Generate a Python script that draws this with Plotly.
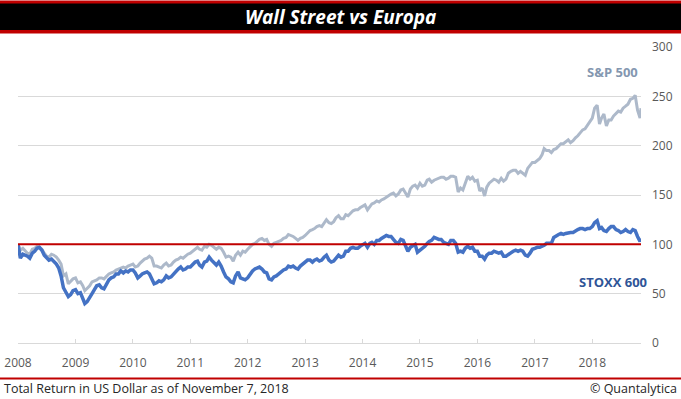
import plotly.graph_objects as go

# ---------------- data (semi-monthly readings: 1st and 16th of each month) ----------------
sp500_2008 = [100, 94, 96, 93, 91, 90, 95, 96, 98, 97, 95, 91, 88, 87, 90, 89, 87, 84, 80, 68, 70, 60, 63, 65]
sp500_2009 = [66, 61, 62, 58, 53, 55, 58, 62, 63, 64, 66, 66, 65, 68, 70, 71, 72, 74, 75, 76, 77, 76, 78, 79]
sp500_2010 = [80, 77, 78, 81, 83, 85, 86, 88, 86, 78, 78, 77, 76, 79, 81, 78, 79, 82, 84, 85, 87, 86, 88, 90]
sp500_2011 = [91, 93, 95, 97, 95, 94, 98, 97, 100, 99, 97, 95, 97, 96, 92, 87, 88, 87, 83, 89, 92, 89, 93, 92]
sp500_2012 = [95, 97, 100, 101, 103, 105, 106, 104, 105, 100, 98, 101, 102, 103, 104, 106, 107, 110, 109, 108, 106, 104, 106, 107]
sp500_2013 = [109, 112, 114, 115, 116, 118, 119, 118, 122, 125, 122, 121, 123, 127, 129, 126, 126, 130, 129, 132, 134, 135, 135, 137]
sp500_2014 = [139, 140, 135, 139, 141, 142, 144, 143, 145, 146, 148, 150, 151, 152, 149, 151, 155, 156, 152, 148, 156, 159, 160, 157]
sp500_2015 = [162, 159, 160, 165, 166, 163, 165, 166, 167, 168, 168, 166, 167, 169, 169, 168, 153, 157, 155, 162, 169, 166, 168, 164]
sp500_2016 = [165, 154, 157, 149, 158, 162, 164, 166, 165, 163, 167, 164, 166, 172, 174, 175, 175, 172, 174, 172, 170, 177, 180, 183]
sp500_2017 = [183, 185, 187, 191, 197, 195, 195, 193, 196, 197, 200, 202, 202, 204, 206, 203, 205, 208, 210, 213, 216, 217, 221, 224]
sp500_2018 = [228, 238, 241, 222, 228, 232, 220, 226, 226, 230, 233, 235, 234, 238, 240, 242, 247, 248, 251, 236, 228, 238]

stoxx_2008 = [100, 86, 90, 89, 88, 86, 91, 93, 96, 97, 94, 89, 86, 84, 85, 83, 80, 76, 68, 56, 52, 47, 49, 53]
stoxx_2009 = [54, 50, 51, 46, 40, 42, 47, 50, 54, 58, 59, 56, 55, 60, 64, 66, 67, 70, 70, 73, 71, 73, 72, 74]
stoxx_2010 = [74, 71, 66, 68, 70, 71, 72, 70, 65, 60, 61, 63, 62, 64, 68, 66, 67, 70, 73, 75, 77, 74, 75, 77]
stoxx_2011 = [77, 80, 82, 83, 79, 77, 82, 83, 87, 84, 81, 79, 82, 78, 72, 67, 65, 62, 61, 68, 72, 66, 65, 64]
stoxx_2012 = [66, 70, 73, 75, 76, 77, 75, 72, 71, 65, 64, 67, 68, 70, 72, 74, 75, 78, 77, 78, 76, 75, 78, 80]
stoxx_2013 = [82, 84, 84, 82, 84, 85, 83, 84, 87, 89, 84, 82, 83, 86, 89, 87, 88, 93, 93, 96, 97, 96, 96, 98]
stoxx_2014 = [100, 101, 97, 101, 102, 100, 104, 104, 106, 107, 109, 108, 108, 105, 102, 101, 105, 104, 98, 93, 97, 99, 100, 92]
stoxx_2015 = [94, 96, 98, 101, 103, 104, 107, 106, 105, 105, 102, 101, 100, 104, 104, 101, 92, 93, 92, 96, 98, 96, 97, 93]
stoxx_2016 = [93, 88, 88, 85, 89, 91, 91, 93, 92, 91, 92, 88, 88, 90, 92, 93, 94, 93, 94, 93, 89, 88, 91, 95]
stoxx_2017 = [96, 97, 97, 98, 99, 101, 101, 101, 107, 109, 110, 111, 110, 111, 112, 112, 112, 114, 115, 116, 116, 115, 116, 116]
stoxx_2018 = [118, 122, 124, 116, 117, 114, 113, 116, 118, 118, 115, 114, 112, 113, 115, 113, 112, 115, 114, 108, 103, 106]

sp500 = (sp500_2008 + sp500_2009 + sp500_2010 + sp500_2011 + sp500_2012 + sp500_2013
         + sp500_2014 + sp500_2015 + sp500_2016 + sp500_2017 + sp500_2018)
stoxx600 = (stoxx_2008 + stoxx_2009 + stoxx_2010 + stoxx_2011 + stoxx_2012 + stoxx_2013
            + stoxx_2014 + stoxx_2015 + stoxx_2016 + stoxx_2017 + stoxx_2018)

dates = []
for yr in range(2008, 2019):
    for mo in range(1, 13):
        if (yr, mo) > (2018, 10):
            continue
        for dy in (1, 16):
            dates.append(f"{yr}-{mo:02d}-{dy:02d}")
dates += ["2018-11-01", "2018-11-07"]

years = list(range(2008, 2019))
year_ticks = [f"{y}-01-01" for y in years]
year_labels = [str(y) for y in years]
baseline = 100
y_ticks = [0, 50, 100, 150, 200, 250, 300]

title_text = "Wall Street vs Europa"
footer_left = "Total Return in US Dollar as of November 7, 2018"
footer_right = "© Quantalytica"

# ---------------- layout geometry ----------------
W, H = 681, 399
ML, MR, MT, MB = 18, 40, 47, 56
RED = "#C00000"
FONT = "Open Sans"


def px_x(x):
    return (x - ML) / (W - ML - MR)


def px_y(y):
    return (H - MB - y) / (H - MT - MB)


fig = go.Figure()
fig.add_trace(go.Scatter(x=dates, y=sp500, mode="lines", name="S&P 500",
                         line=dict(color="#ADB9CA", width=3)))
fig.add_trace(go.Scatter(x=dates, y=stoxx600, mode="lines", name="STOXX 600",
                         line=dict(color="#4472C4", width=3.5)))

fig.update_layout(
    width=W, height=H, autosize=False,
    margin=dict(l=ML, r=MR, t=MT, b=MB, pad=0, autoexpand=False),
    paper_bgcolor="white", plot_bgcolor="white",
    showlegend=False,
    font=dict(family=FONT, size=12, color="#595959"),
    xaxis=dict(
        type="date", range=[dates[0], dates[-1]],
        tickvals=year_ticks, ticktext=year_labels,
        ticks="inside", ticklen=4, tickcolor="#D9D9D9",
        showline=True, linecolor="#D9D9D9", linewidth=1,
        showgrid=False, zeroline=False, automargin=False,
        tickfont=dict(family=FONT, size=12, color="#595959"),
        ticklabelstandoff=9,
    ),
    yaxis=dict(
        side="right", range=[0, 300], tickvals=y_ticks,
        showgrid=True, gridcolor="#D9D9D9", gridwidth=1,
        showline=False, zeroline=False, ticks="", automargin=False,
        tickfont=dict(family=FONT, size=12, color="#595959"),
        ticklabelstandoff=10,
    ),
)

shapes = [
    dict(type="rect", xref="paper", yref="paper", x0=px_x(0), x1=px_x(W),
         y0=px_y(33.5), y1=px_y(0.5), fillcolor=RED, line=dict(width=0), layer="above"),
    dict(type="rect", xref="paper", yref="paper", x0=px_x(0), x1=px_x(W),
         y0=px_y(30), y1=px_y(3.5), fillcolor="black", line=dict(width=0), layer="above"),
    dict(type="line", xref="paper", yref="paper", x0=px_x(0), x1=px_x(W),
         y0=px_y(378.5), y1=px_y(378.5), line=dict(color=RED, width=2), layer="above"),
    dict(type="line", xref="paper", yref="y", x0=0, x1=1, y0=baseline, y1=baseline,
         line=dict(color=RED, width=2), layer="above"),
]
fig.update_layout(shapes=shapes)

annotations = [
    dict(text=f"<b><i>{title_text}</i></b>", xref="paper", yref="paper",
         x=px_x(340.5), y=px_y(16.8), xanchor="center", yanchor="middle", showarrow=False,
         font=dict(family=FONT, size=19, color="white")),
    dict(text="<b>S&P 500</b>", xref="paper", yref="paper",
         x=px_x(612), y=px_y(71.5), xanchor="center", yanchor="middle", showarrow=False,
         font=dict(family=FONT, size=13, color="#8497B0")),
    dict(text="<b>STOXX 600</b>", xref="paper", yref="paper",
         x=px_x(613), y=px_y(281.5), xanchor="center", yanchor="middle", showarrow=False,
         font=dict(family=FONT, size=13, color="#2F5597")),
    dict(text=footer_left, xref="paper", yref="paper",
         x=px_x(2), y=px_y(388.5), xanchor="left", yanchor="middle", showarrow=False,
         font=dict(family=FONT, size=12.5, color="#262626")),
    dict(text=footer_right, xref="paper", yref="paper",
         x=px_x(679), y=px_y(388.5), xanchor="right", yanchor="middle", showarrow=False,
         font=dict(family=FONT, size=12.5, color="#262626")),
]
fig.update_layout(annotations=annotations)

fig.write_html(
    "out.html",
    config={"displayModeBar": False},
    post_script="document.body.style.margin='0';document.body.style.overflow='hidden';",
)
